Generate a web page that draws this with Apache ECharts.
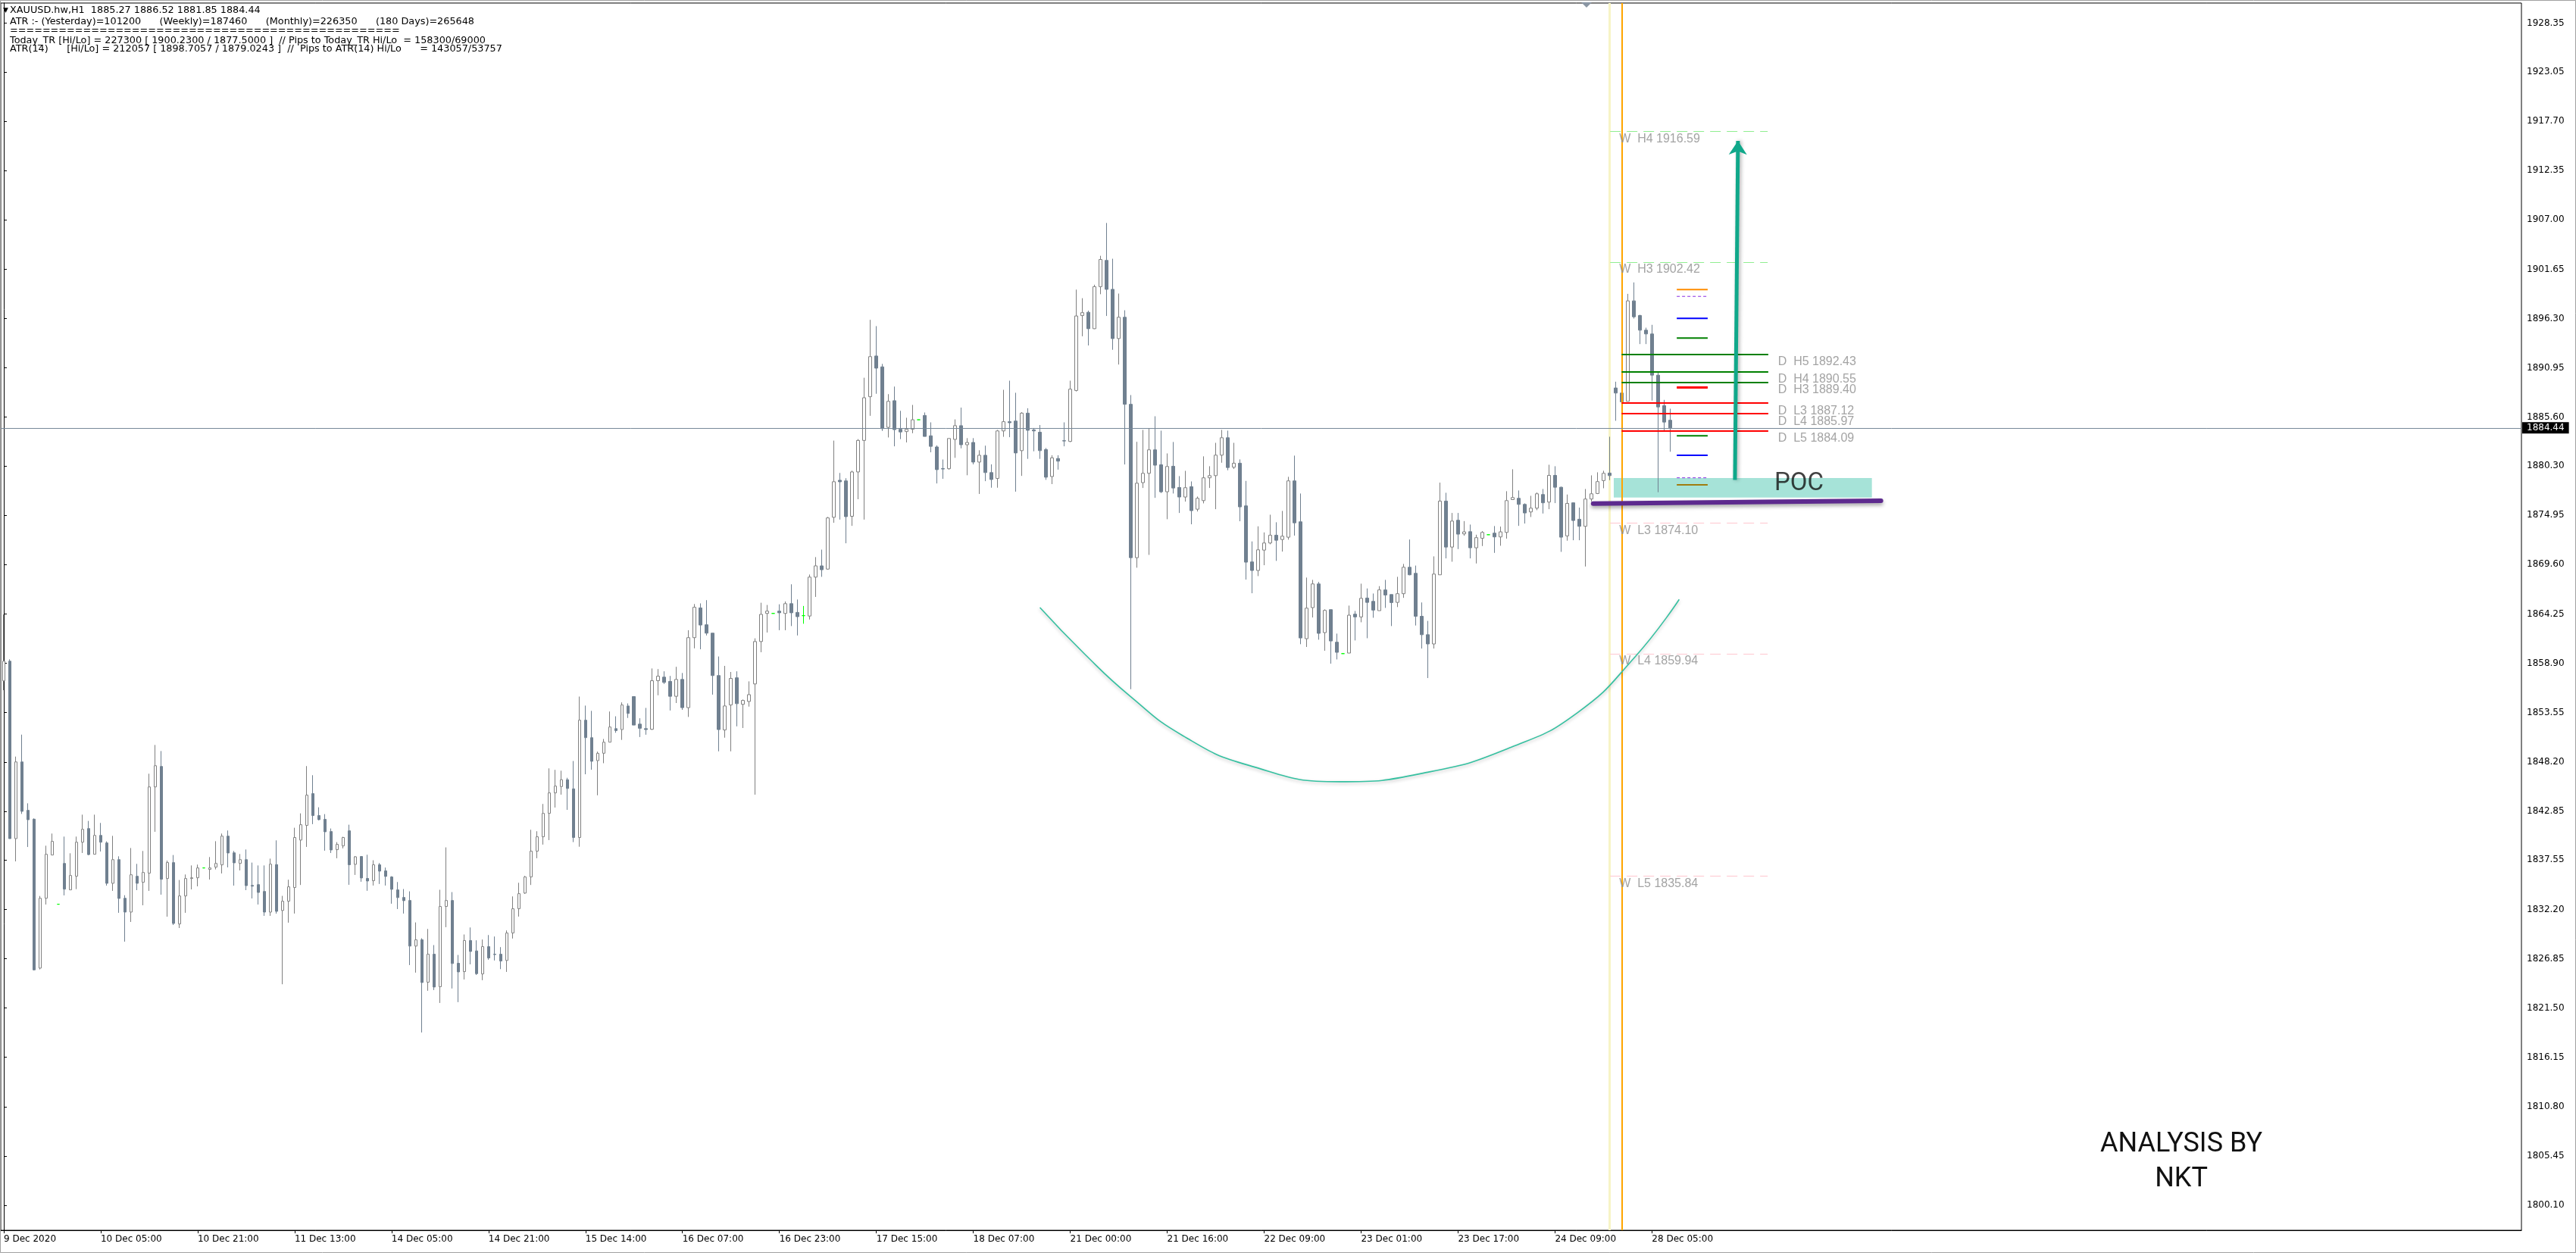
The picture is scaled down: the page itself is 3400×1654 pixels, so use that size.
<!DOCTYPE html>
<html><head><meta charset="utf-8">
<script src="https://cdn.jsdelivr.net/npm/echarts@6/dist/echarts.min.js"></script>
<style>html,body{margin:0;padding:0;background:#fff}#c{width:3400px;height:1654px}</style>
</head><body><div id="c"></div>
<script>
// ---------- DATA ----------
const opens = [
1856.99,1859.13,1839.88,1848.20,1842.95,1841.99,1825.83,1833.41,1838.10,1832.76,
1837.19,1834.32,1835.80,1839.49,1840.97,1838.18,1840.23,1839.41,1835.03,1837.60,
1833.41,1831.91,1835.80,1835.14,1836.13,1845.49,1847.71,1835.55,1837.28,1830.62,
1833.66,1835.55,1835.63,1836.70,1836.54,1836.78,1837.03,1840.15,1838.34,1837.19,
1837.60,1834.81,1834.89,1834.15,1831.91,1837.06,1832.08,1833.09,1834.57,1839.72,
1841.31,1844.76,1842.38,1841.97,1840.65,1838.68,1839.09,1840.73,1837.09,1837.94,
1835.56,1835.31,1837.04,1836.38,1835.72,1834.32,1833.50,1833.17,1828.22,1828.90,
1824.30,1827.34,1823.81,1832.52,1833.17,1826.36,1825.45,1828.82,1827.70,1825.20,
1828.16,1827.34,1827.34,1826.66,1829.64,1832.27,1833.97,1835.72,1838.52,1840.08,
1842.62,1844.84,1845.53,1846.27,1845.28,1840.00,1852.73,1850.83,1848.34,1849.14,
1850.34,1851.81,1851.71,1854.27,1855.29,1852.30,1851.81,1851.74,1857.01,1857.40,
1856.94,1855.32,1857.15,1854.09,1861.68,1864.91,1863.08,1862.17,1857.57,1851.67,
1854.38,1857.33,1854.45,1854.76,1856.66,1861.26,1864.31,1864.31,1864.56,1864.31,
1865.37,1864.42,1864.07,1864.03,1868.25,1869.47,1869.12,1874.74,1878.76,1878.69,
1874.85,1879.66,1883.08,1887.82,1892.24,1891.06,1884.50,1887.39,1884.29,1884.04,
1884.29,1885.32,1885.79,1883.58,1882.37,1880.02,1880.01,1883.19,1884.68,1882.61,
1882.86,1880.73,1881.47,1879.59,1878.95,1884.11,1885.11,1885.18,1881.97,1886.04,
1884.22,1883.97,1882.08,1879.16,1881.12,1883.05,1882.97,1888.50,1896.62,1896.98,
1895.20,1899.76,1902.61,1899.47,1894.13,1896.44,1887.00,1870.36,1878.50,1879.51,
1882.06,1880.44,1877.51,1880.28,1877.98,1876.94,1878.06,1875.62,1876.55,1879.02,
1879.26,1881.48,1883.37,1880.17,1880.61,1875.98,1869.90,1868.97,1871.18,1871.95,
1872.80,1872.33,1872.58,1878.69,1874.25,1861.57,1864.94,1867.51,1862.23,1864.72,
1861.19,1859.95,1860.01,1864.23,1863.93,1865.98,1865.62,1864.61,1866.86,1866.36,
1865.51,1866.45,1869.32,1868.66,1864.00,1862.00,1861.00,1868.50,1876.50,1871.51,
1874.42,1872.94,1873.18,1871.43,1872.47,1872.85,1873.02,1872.61,1873.10,1876.66,
1876.80,1876.14,1875.32,1875.73,1877.21,1876.39,1879.29,1878.00,1872.72,1876.31,
1874.53,1873.76,1876.72,1877.32,1878.72,1879.54,1888.77,1888.22,1887.32,1898.22,
1896.63,1895.04,1894.63,1890.16,1886.85,1885.27];
const highs = [
1864.20,1859.33,1848.78,1851.16,1843.71,1842.07,1833.66,1839.11,1840.43,1832.76,
1840.10,1838.29,1840.10,1842.48,1841.80,1842.48,1841.58,1839.58,1840.18,1837.96,
1833.74,1838.86,1837.14,1838.54,1846.92,1850.04,1849.38,1837.50,1838.10,1835.39,
1835.99,1836.97,1837.06,1836.70,1837.88,1839.60,1840.43,1840.76,1838.54,1838.21,
1838.70,1837.28,1836.97,1836.97,1837.71,1839.69,1833.67,1835.42,1841.06,1842.62,
1847.75,1846.76,1843.28,1842.54,1840.98,1839.50,1840.08,1841.39,1837.99,1837.94,
1838.13,1837.53,1837.23,1836.74,1835.80,1835.17,1834.41,1834.16,1830.79,1829.07,
1830.08,1828.33,1834.33,1838.93,1834.08,1827.26,1829.48,1830.24,1828.85,1828.93,
1829.42,1829.26,1828.11,1829.92,1833.61,1835.09,1835.83,1840.84,1840.68,1843.64,
1847.50,1847.34,1847.25,1846.48,1848.30,1855.29,1854.31,1853.74,1849.32,1850.69,
1853.67,1853.15,1854.66,1854.55,1855.29,1852.94,1854.06,1858.34,1858.27,1858.03,
1857.53,1858.52,1857.85,1862.49,1865.33,1865.40,1865.75,1862.17,1859.64,1858.62,
1857.96,1858.03,1854.97,1856.94,1861.61,1865.47,1865.23,1864.31,1865.30,1865.61,
1867.47,1865.82,1865.12,1868.53,1870.42,1871.23,1874.78,1883.06,1879.55,1878.98,
1879.80,1883.22,1889.88,1896.16,1895.48,1891.38,1888.10,1888.92,1886.29,1885.54,
1886.93,1885.32,1886.11,1885.04,1882.54,1881.01,1883.29,1885.36,1886.64,1883.33,
1883.33,1882.01,1882.51,1880.48,1884.22,1888.57,1889.56,1888.25,1886.14,1886.57,
1884.43,1884.75,1882.26,1881.47,1881.47,1885.04,1889.56,1899.44,1898.51,1897.16,
1899.97,1903.11,1906.67,1902.79,1899.01,1897.20,1888.00,1882.93,1884.22,1884.36,
1885.70,1884.14,1881.67,1882.91,1879.21,1879.78,1878.63,1876.99,1881.35,1880.28,
1882.82,1884.22,1884.14,1882.82,1881.02,1878.69,1872.12,1873.76,1873.10,1875.02,
1874.20,1875.43,1879.13,1881.43,1877.32,1868.20,1867.95,1867.73,1864.75,1864.72,
1862.12,1859.95,1865.16,1864.58,1867.54,1867.02,1866.47,1867.27,1867.95,1866.36,
1868.28,1869.68,1872.33,1869.50,1865.50,1863.50,1870.50,1878.50,1877.40,1875.21,
1875.21,1874.33,1873.95,1872.85,1873.24,1872.85,1873.79,1873.73,1877.57,1879.95,
1877.65,1876.25,1877.07,1877.43,1877.81,1880.44,1880.28,1878.06,1877.21,1876.31,
1875.79,1877.81,1879.29,1879.62,1879.79,1883.48,1889.45,1889.04,1898.98,1900.22,
1896.71,1895.31,1895.62,1890.55,1887.48,1886.52];
const lows = [
1855.98,1839.88,1837.41,1842.56,1838.97,1825.58,1825.69,1832.73,1838.10,1832.76,
1833.72,1834.32,1834.40,1838.32,1838.07,1838.18,1838.48,1834.78,1834.21,1831.83,
1828.70,1830.84,1834.29,1832.65,1834.21,1840.62,1833.80,1831.41,1830.51,1830.18,
1831.83,1834.37,1834.70,1836.70,1835.44,1836.54,1836.10,1836.76,1834.78,1836.43,
1834.29,1833.39,1832.73,1831.50,1831.50,1831.74,1824.08,1830.76,1831.75,1834.85,
1838.98,1841.45,1841.86,1838.57,1838.32,1837.75,1838.82,1834.87,1835.94,1835.20,
1834.22,1834.79,1834.96,1834.79,1832.82,1832.24,1831.75,1826.16,1825.34,1818.85,
1823.37,1823.45,1822.05,1830.27,1823.62,1822.14,1824.60,1826.24,1825.09,1824.52,
1826.74,1826.66,1825.72,1825.42,1829.04,1831.42,1833.89,1834.85,1837.75,1839.23,
1839.72,1843.25,1844.65,1843.00,1839.50,1839.00,1846.86,1847.35,1844.58,1848.06,
1850.34,1851.36,1850.59,1852.97,1852.20,1850.90,1851.15,1851.67,1855.43,1856.66,
1853.78,1854.59,1853.85,1853.08,1860.52,1860.42,1861.92,1855.50,1849.35,1850.83,
1849.35,1852.06,1851.88,1854.20,1844.65,1860.10,1862.24,1864.31,1862.49,1862.49,
1862.94,1861.92,1863.19,1863.65,1866.10,1868.28,1869.05,1874.14,1874.49,1871.92,
1873.81,1876.70,1874.49,1885.75,1888.14,1884.11,1883.40,1882.44,1883.22,1882.86,
1883.86,1885.32,1883.51,1881.79,1878.41,1878.91,1879.91,1881.19,1882.22,1879.30,
1880.48,1877.27,1878.66,1877.95,1877.95,1883.47,1883.43,1877.52,1879.23,1881.08,
1881.90,1881.08,1878.80,1878.34,1879.91,1882.44,1882.90,1888.39,1894.38,1893.38,
1895.16,1898.94,1896.58,1892.91,1891.31,1880.47,1856.09,1869.27,1877.92,1870.66,
1876.85,1877.37,1874.53,1877.32,1875.21,1876.44,1873.98,1875.37,1876.25,1877.92,
1875.62,1880.66,1879.84,1879.98,1874.31,1867.98,1866.50,1868.36,1869.54,1871.81,
1870.01,1871.02,1872.31,1872.75,1860.97,1860.67,1863.87,1861.46,1860.26,1858.86,
1859.32,1859.95,1860.01,1861.38,1863.35,1861.62,1863.84,1864.61,1864.91,1862.94,
1865.00,1866.00,1868.45,1863.00,1860.50,1857.30,1860.50,1868.50,1870.28,1869.92,
1871.29,1872.74,1870.28,1869.73,1871.62,1872.85,1870.88,1871.65,1872.42,1876.66,
1873.81,1874.06,1874.77,1875.51,1875.15,1875.62,1876.28,1870.99,1872.20,1872.25,
1872.25,1869.40,1876.44,1877.26,1877.89,1878.77,1885.21,1885.62,1887.32,1896.30,
1893.53,1893.53,1887.40,1877.46,1884.08,1881.85];
const closes = [
1859.13,1839.88,1848.20,1842.84,1841.93,1825.64,1833.41,1838.18,1839.58,1832.76,
1834.40,1835.88,1839.49,1840.89,1838.15,1840.23,1839.49,1835.03,1837.60,1833.39,
1831.91,1835.96,1835.03,1836.21,1845.49,1847.79,1835.47,1837.28,1830.68,1833.66,
1835.55,1835.63,1836.70,1836.70,1836.70,1837.19,1840.15,1838.32,1837.25,1837.60,
1834.78,1834.72,1834.04,1831.91,1837.11,1831.99,1833.09,1834.65,1840.00,1841.39,
1844.60,1842.38,1841.94,1840.62,1838.65,1839.26,1840.00,1837.04,1837.91,1835.61,
1835.28,1837.04,1836.35,1835.78,1834.38,1833.48,1833.15,1828.22,1828.90,1824.27,
1827.34,1823.78,1832.52,1833.17,1826.33,1825.42,1828.82,1827.64,1825.23,1828.16,
1826.93,1827.30,1826.60,1829.64,1832.27,1833.91,1835.72,1838.52,1840.08,1842.62,
1844.84,1845.58,1846.27,1845.32,1840.00,1852.73,1850.83,1848.27,1849.14,1850.34,
1851.99,1851.60,1854.38,1853.46,1852.20,1851.85,1851.71,1857.01,1857.50,1856.83,
1855.32,1857.15,1854.09,1861.68,1864.98,1863.05,1862.17,1857.57,1851.71,1854.27,
1857.26,1854.52,1854.87,1855.50,1861.26,1864.21,1864.56,1864.31,1864.38,1865.37,
1864.38,1863.96,1864.07,1868.25,1869.47,1869.05,1874.67,1878.60,1878.59,1874.81,
1879.66,1883.08,1887.71,1892.17,1890.92,1884.36,1887.32,1884.25,1884.00,1884.29,
1885.32,1885.32,1883.51,1882.44,1879.91,1879.98,1883.29,1884.68,1882.61,1882.86,
1880.73,1881.47,1879.59,1878.84,1884.11,1885.11,1885.00,1881.72,1886.04,1884.18,
1884.11,1881.97,1879.09,1881.19,1880.83,1883.02,1888.64,1896.58,1896.94,1895.20,
1899.76,1902.71,1899.47,1894.13,1896.44,1887.00,1870.36,1878.44,1879.51,1882.06,
1880.39,1877.51,1880.25,1877.92,1876.94,1877.95,1875.46,1876.80,1879.02,1879.26,
1881.48,1883.37,1880.14,1880.61,1875.87,1869.87,1868.97,1871.21,1871.95,1872.80,
1872.25,1872.69,1878.69,1874.14,1861.65,1864.88,1867.51,1862.15,1864.64,1861.32,
1860.09,1859.95,1864.12,1863.93,1865.95,1865.51,1864.67,1866.86,1866.31,1865.49,
1866.45,1869.32,1868.50,1864.00,1862.00,1861.00,1868.58,1876.50,1871.51,1874.33,
1872.91,1873.16,1871.43,1872.53,1873.10,1872.85,1872.61,1873.16,1876.55,1876.88,
1876.14,1875.21,1875.73,1877.29,1876.31,1879.29,1878.00,1872.58,1876.25,1874.39,
1873.76,1876.72,1877.29,1878.61,1879.51,1879.26,1888.22,1887.26,1898.22,1896.49,
1895.04,1894.63,1890.16,1886.71,1885.07,1884.44];

const xTickLabels = ['9 Dec 2020','10 Dec 05:00','10 Dec 21:00','11 Dec 13:00','14 Dec 05:00','14 Dec 21:00',
  '15 Dec 14:00','16 Dec 07:00','16 Dec 23:00','17 Dec 15:00','18 Dec 07:00','21 Dec 00:00','21 Dec 16:00',
  '22 Dec 09:00','23 Dec 01:00','23 Dec 17:00','24 Dec 09:00','28 Dec 05:00'];
const yTickValues = [1800.10,1805.45,1810.80,1816.15,1821.50,1826.85,1832.20,1837.55,1842.85,1848.20,1853.55,
  1858.90,1864.25,1869.60,1874.95,1880.30,1885.60,1890.95,1896.30,1901.65,1907.00,1912.35,1917.70,1923.05,1928.35];

const lastPrice = 1884.44;
const weeklyLevels = [['H4',1916.59],['H3',1902.42],['L3',1874.10],['L4',1859.94],['L5',1835.84]];
const dailyLevels = [['H5',1892.43],['H4',1890.55],['H3',1889.40],['L3',1887.12],['L4',1885.97],['L5',1884.09]];
const atrMarks = [['orange',1899.45],['atr',1898.7057],['blue',1896.33],['green',1894.19],['red',1888.83],
  ['green',1883.59],['blue',1881.46],['atr',1879.0243],['olive',1878.25]];
const pocZone = [1876.89, 1879.00];
const purpleLine = [[262.3, 1876.23],[309.8, 1876.53]];
const arrowLine = [[285.7, 1878.80],[286.2, 1915.57]];
const arcPoints = [[171.0,1864.94],[178.3,1859.95],[185.9,1855.32],[194.6,1851.04],[205.4,1847.84],
  [220.4,1846.05],[235.3,1847.12],[248.8,1849.80],[259.7,1853.54],[269.2,1859.59],[276.5,1865.83]];

const headerLines = [
  'XAUUSD.hw,H1  1885.27 1886.52 1881.85 1884.44',
  'ATR :- (Yesterday)=101200      (Weekly)=187460      (Monthly)=226350      (180 Days)=265648',
  '================================================',
  'Today_TR [Hi/Lo] = 227300 [ 1900.2300 / 1877.5000 ]  // Pips to Today_TR Hi/Lo  = 158300/69000',
  'ATR(14)      [Hi/Lo] = 212057 [ 1898.7057 / 1879.0243 ]  //  Pips to ATR(14) Hi/Lo      = 143057/53757'
];

// ---------- BUILD ----------
const N = 416;
const yMin = 1797.39, yMax = 1930.53;
const cats = Array.from({length: N}, (_, i) => String(i));
const candleData = [], dojiData = [];
for (let i = 0; i < opens.length; i++) {
  const d = [opens[i], closes[i], lows[i], highs[i]];
  if (opens[i] === closes[i]) { dojiData.push(d); candleData.push('-'); }
  else { candleData.push(d); dojiData.push('-'); }
}
const atrColor = {orange:'#ff8c00', atr:'#8a2be2', blue:'#0000ff', green:'#008000', red:'#ff0000', olive:'#a07c10'};
const segs = [];
segs.push({coords:[[265,yMin],[265,yMax]], lineStyle:{color:'#f7f4c6', width:3, type:'solid', opacity:1}});
const vSeg = {coords:[[267,yMin],[267,yMax]], lineStyle:{color:'#ffa500', width:2, type:'solid', opacity:1}};
weeklyLevels.forEach(([n,v]) => segs.push({coords:[[265.1,v],[291.1,v]],
  lineStyle:{color: n[0]==='H' ? '#90ee90' : '#ffc6cf', width:1, type:[14,8], opacity:1}}));
const dSegs = dailyLevels.map(([n,v]) => ({coords:[[267,v],[291.2,v]],
  lineStyle:{color: n[0]==='H' ? '#008000' : '#ff0000', width:2, type:'solid', opacity:1}}));
const atrSeries = atrMarks.map(([k,v]) => ({
  type: 'line', xAxisIndex: 1, yAxisIndex: 0, z: 4, silent: true, symbol: 'none',
  data: [[276.1, v], [281.2, v]],
  lineStyle: {color: atrColor[k], width: k==='red' ? 3 : (k==='atr' ? 1 : 2), type: k==='atr' ? [4,3] : 'solid'}
}));

const labelPts = [];
weeklyLevels.forEach(([n,v]) => labelPts.push({value:[266.6, v], name:'W  ' + n + ' ' + v.toFixed(2)}));
dailyLevels.forEach(([n,v]) => labelPts.push({value:[292.8, v], name:'D  ' + n + ' ' + v.toFixed(2)}));

const chart = echarts.init(document.getElementById('c'), null, {renderer:'canvas'});
const tickShow = (idx) => idx % 16 === 0 && idx / 16 < xTickLabels.length;
chart.setOption({
  animation: false,
  backgroundColor: '#ffffff',
  grid: {left: 1, right: 72, top: 4, bottom: 30, show: true, borderColor: '#000', borderWidth: 1, backgroundColor: '#fff'},
  xAxis: [{
    type: 'category', data: cats, boundaryGap: true,
    axisLine: {show: true, lineStyle: {color: '#000', width: 1}},
    axisTick: {show: true, alignWithLabel: true, interval: tickShow, length: 4, lineStyle: {color: '#000'}},
    axisLabel: {interval: tickShow, formatter: (v, i) => xTickLabels[i / 16] || '', align: 'left',
      color: '#000', fontFamily: 'DejaVu Sans', fontSize: 12, margin: 6},
    splitLine: {show: false}
  }, {
    type: 'value', min: -0.5, max: N - 0.5, show: false
  }],
  yAxis: {
    type: 'value', position: 'right', min: yMin, max: yMax, scale: true,
    axisLine: {show: true, lineStyle: {color: '#000', width: 1}},
    axisTick: {show: true, customValues: yTickValues, length: 4, lineStyle: {color: '#000'}},
    axisLabel: {customValues: yTickValues, formatter: v => v.toFixed(2), color: '#000',
      fontFamily: 'DejaVu Sans', fontSize: 12, margin: 7},
    splitLine: {show: false}
  },
  graphic: [
    {type: 'rect', shape: {x: 0.5, y: 0.5, width: 3399, height: 1653}, style: {fill: 'none', stroke: '#a0a0a0', lineWidth: 1}, z: 100},
    {type: 'text', left: 4, top: 9, style: {text: '▼', font: '9px "DejaVu Sans"', fill: '#000'}},
    ...headerLines.map((t, k) => ({type: 'text', x: 13, y: [14, 28.5, 41, 53.5, 65][k],
      style: {text: t, font: '12.8px "DejaVu Sans"', fill: '#000', textVerticalAlign: 'middle'}})),
    {type: 'polygon', shape: {points: [[2087, 3], [2101, 3], [2094, 10]]}, style: {fill: '#8a96a3'}},
    {type: 'text', x: 2879, y: 1511, style: {text: 'ANALYSIS BY', font: '36px Roboto', fill: '#111',
      textAlign: 'center', textVerticalAlign: 'middle'}},
    {type: 'text', x: 2879, y: 1557, style: {text: 'NKT', font: '36px Roboto', fill: '#111',
      textAlign: 'center', textVerticalAlign: 'middle'}}
  ],
  series: [
    {
      type: 'scatter', xAxisIndex: 1, yAxisIndex: 0, z: 1, silent: true, symbolSize: 0,
      data: [[265.7, pocZone[1]]],
      markArea: {silent: true, itemStyle: {color: '#a6e3d8'},
        data: [[{coord: [265.7, pocZone[1]]}, {coord: [308.3, pocZone[0]]}]]}
    },
    {
      type: 'lines', coordinateSystem: 'cartesian2d', xAxisIndex: 1, yAxisIndex: 0, z: 1, silent: true,
      polyline: false, data: segs
    },
    {
      type: 'candlestick', xAxisIndex: 0, yAxisIndex: 0, z: 2, barWidth: 4, silent: true,
      data: candleData,
      itemStyle: {color: '#ffffff', color0: '#708090', borderColor: '#808080', borderColor0: '#708090', borderWidth: 1},
      markLine: {silent: true, symbol: 'none', data: [{yAxis: lastPrice}],
        lineStyle: {color: '#778899', width: 1, type: 'solid'},
        label: {show: true, position: 'end', formatter: lastPrice.toFixed(2), backgroundColor: '#000', color: '#fff',
          padding: [2, 6, 1, 6], fontFamily: 'DejaVu Sans', fontSize: 12, distance: 1}}
    },
    {
      type: 'candlestick', xAxisIndex: 0, yAxisIndex: 0, z: 2, barWidth: 4, silent: true,
      data: dojiData,
      itemStyle: {color: '#00ff00', color0: '#00ff00', borderColor: '#00ff00', borderColor0: '#00ff00', borderWidth: 1}
    },
    {
      type: 'lines', coordinateSystem: 'cartesian2d', xAxisIndex: 1, yAxisIndex: 0, z: 3, silent: true,
      polyline: false, data: [vSeg, ...dSegs]
    },
    ...atrSeries,
    {
      type: 'lines', coordinateSystem: 'cartesian2d', xAxisIndex: 1, yAxisIndex: 0, z: 4, silent: true,
      polyline: false, data: [{coords: purpleLine}],
      lineStyle: {color: '#5d2a8e', width: 6, cap: 'round', opacity: 1,
        shadowBlur: 5, shadowColor: 'rgba(0,0,0,0.35)', shadowOffsetY: 3}
    },
    {
      type: 'line', xAxisIndex: 1, yAxisIndex: 0, z: 4, silent: true, smooth: 0.5, symbol: 'none',
      data: arcPoints,
      lineStyle: {color: '#35c0a0', width: 1.6, shadowBlur: 4, shadowColor: 'rgba(0,0,0,0.25)', shadowOffsetY: 2}
    },
    {
      type: 'lines', coordinateSystem: 'cartesian2d', xAxisIndex: 1, yAxisIndex: 0, z: 5, silent: true,
      polyline: false, symbol: ['none', 'arrow'], symbolSize: [14, 18],
      data: [{coords: arrowLine}],
      lineStyle: {color: '#10a88a', width: 5, opacity: 1, shadowBlur: 5, shadowColor: 'rgba(0,0,0,0.3)', shadowOffsetX: 2}
    },
    {
      type: 'scatter', xAxisIndex: 1, yAxisIndex: 0, z: 6, silent: true, symbolSize: 1,
      itemStyle: {color: 'rgba(0,0,0,0)'},
      data: labelPts,
      label: {show: true, position: 'inside', align: 'left', verticalAlign: 'middle', offset: [0, 10],
        formatter: p => p.name, color: '#8c8c8c', fontFamily: 'Liberation Sans', fontSize: 16}
    },
    {
      type: 'scatter', xAxisIndex: 1, yAxisIndex: 0, z: 6, silent: true, symbolSize: 1,
      itemStyle: {color: 'rgba(0,0,0,0)'},
      data: [{value: [292.2, 1878.34], name: 'POC'}],
      label: {show: true, position: 'inside', align: 'left', verticalAlign: 'middle',
        formatter: p => p.name, color: '#111', fontFamily: 'Roboto', fontSize: 33}
    }
  ]
});
</script>
</body></html>
